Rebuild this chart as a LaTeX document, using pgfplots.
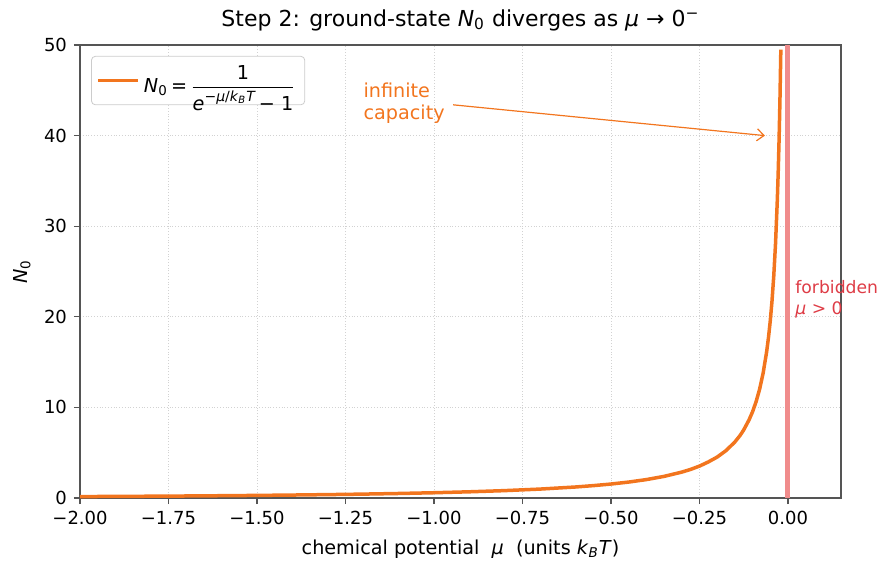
\documentclass[border=0pt]{standalone}
\usepackage{pgfplots}
\pgfplotsset{compat=1.18}
\usepackage{fontspec}
\setmainfont{DejaVu Sans}
\usetikzlibrary{arrows.meta}
\definecolor{curve}{RGB}{242,117,30}
\definecolor{forb}{RGB}{240,140,140}
\definecolor{forbtxt}{RGB}{222,60,70}
\definecolor{frame}{RGB}{85,85,85}
\newcommand{\Nz}{\textit{N}\textsubscript{0}}
\begin{document}
\begin{tikzpicture}
\begin{axis}[
  name=ax, at={(0,0)}, anchor=south west,
  scale only axis, width=380.5pt, height=226.5pt,
  xmin=-2, xmax=0.15, ymin=0, ymax=50,
  clip=false,
  axis line style={frame, line width=0.7pt},
  tick align=outside, major tick length=3pt,
  tick style={frame, line width=0.6pt},
  xtick={-2,-1.75,-1.5,-1.25,-1,-0.75,-0.5,-0.25,0},
  xticklabels={−2.00,−1.75,−1.50,−1.25,−1.00,−0.75,−0.50,−0.25,0.00},
  ytick={0,10,20,30,40,50},
  yticklabels={0,10,20,30,40,50},
  xtick pos=bottom, ytick pos=left,
  tick label style={font=\fontsize{9}{10}\selectfont},
  grid=major, major grid style={densely dotted, gray!35, line width=0.4pt},
  title={Step 2: ground-state \Nz{} diverges as \textit{μ} → 0\textsuperscript{−}},
  title style={at={(axis description cs:0.5,1)}, anchor=south, inner sep=0pt, yshift=1pt, font=\fontsize{11}{12}\selectfont},
  xlabel={chemical potential\ \ \textit{μ}\ \ (units \textit{k}\textsubscript{\textit{B}}\textit{T})},
  xlabel style={at={(axis description cs:0.5,0)}, anchor=north, inner sep=0pt, yshift=-21pt, font=\fontsize{9.6}{10}\selectfont},
  ylabel={\Nz},
  ylabel style={at={(axis description cs:0,0.5)}, anchor=center, yshift=29pt, font=\fontsize{9.6}{10}\selectfont},
  legend style={at={(axis description cs:0.0145,0.976)}, anchor=north west, draw=gray!40, rounded corners=2pt, fill=white, inner sep=2.5pt, font=\fontsize{9.6}{10}\selectfont, cells={anchor=west}},
  legend image code/.code={\draw[#1, line width=1.75pt] (0pt,0pt) -- (20pt,0pt);},
]
\addplot[curve, line width=1.75pt] coordinates {
(-2.0,0.1565) (-1.9,0.1775) (-1.8,0.1980) (-1.75,0.2103) (-1.7,0.2233) (-1.6,0.2530) (-1.5,0.2872) (-1.4,0.3273) (-1.3,0.3747)
(-1.25,0.4016) (-1.2,0.4310) (-1.1,0.4990) (-1.0,0.5820) (-0.9,0.6851) (-0.8,0.8160) (-0.7,0.9864) (-0.6,1.2164)
(-0.55,1.3666) (-0.5,1.5415) (-0.45,1.7597) (-0.4,2.0332) (-0.35,2.3865) (-0.3,2.8583) (-0.275,3.1558) (-0.25,3.5208)
(-0.225,3.9790) (-0.2,4.5167) (-0.175,5.2287) (-0.15,6.1792) (-0.135,6.9109) (-0.125,7.5103) (-0.11,8.6089) (-0.1,9.5083)
(-0.09,10.619) (-0.08,12.006) (-0.07,13.791) (-0.06,16.171) (-0.055,17.686) (-0.05,19.504) (-0.045,21.725)
(-0.04,24.504) (-0.035,28.075) (-0.03,32.840) (-0.0275,35.867) (-0.025,39.510) (-0.0225,43.950) (-0.02,49.50)
};
\addlegendentry{\Nz\,=\,$\displaystyle\frac{\mbox{1}}{\mbox{\textit{e}\raisebox{0.9ex}{\fontsize{7}{7}\selectfont −\textit{μ}/\textit{k}\textsubscript{\textit{B}}\textit{T}}\,− 1}}$}
\addplot[forb, line width=2.5pt, forget plot] coordinates {(0,0) (0,50)};
\draw[curve, line width=0.6pt, -{Straight Barb[length=3.5pt,width=6pt]}] (axis cs:-0.946,43.4) -- (axis cs:-0.065,40);
\node[anchor=west, align=left, inner sep=0pt, text=curve, font=\fontsize{9.6}{11}\selectfont] at (axis cs:-1.2,43.6) {infinite\\capacity};
\node[anchor=west, align=left, inner sep=0pt, text=forbtxt, font=\fontsize{8.6}{10.5}\selectfont] at (axis cs:0.02,21.9) {forbidden\\\textit{μ} > 0};
\end{axis}
\pgfresetboundingbox
\useasboundingbox (-40pt,-38.5pt) rectangle (406.5pt,249pt);
\end{tikzpicture}
\end{document}
